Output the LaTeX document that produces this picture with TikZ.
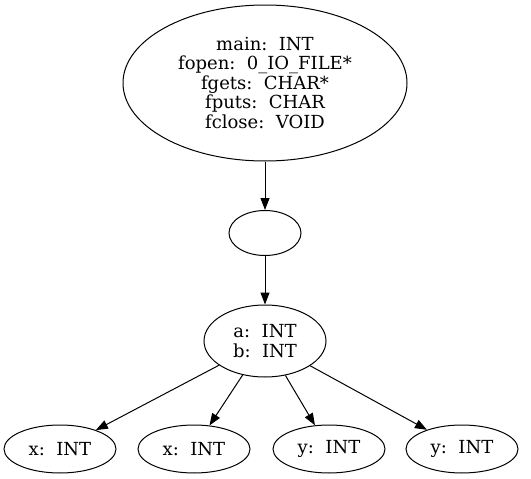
\documentclass[tikz,border=0pt]{standalone}
\usepackage{fontspec}
\setmainfont{DejaVu Serif}
\usetikzlibrary{shapes.geometric,arrows.meta}
\begin{document}
\begin{tikzpicture}[x=1pt,y=-1pt,
  nd/.style={draw,ellipse,inner sep=0pt,line width=1pt,align=center,
    font=\fontsize{18}{19.5}\selectfont},
  edge/.style={line width=1pt,-{Triangle[length=12pt,width=9pt]}}]
\useasboundingbox (0,0) rectangle (531,479);
\node[nd,minimum width=284pt,minimum height=156pt] (top) at (265,83)
  {main:~~INT\\fopen:~~0\_IO\_FILE*\\fgets:~~CHAR*\\fputs:~~CHAR\\fclose:~~VOID};
\node[nd,minimum width=72pt,minimum height=45pt] (mid) at (265,233) {};
\node[nd,minimum width=122pt,minimum height=72pt] (ab) at (265,341) {a:~~INT\\b:~~INT};
\node[nd,minimum width=112pt,minimum height=48pt] (x1) at (60,449) {x:~~INT};
\node[nd,minimum width=112pt,minimum height=48pt] (x2) at (194,449) {x:~~INT};
\node[nd,minimum width=112pt,minimum height=48pt] (y1) at (329,449) {y:~~INT};
\node[nd,minimum width=112pt,minimum height=48pt] (y2) at (462,449) {y:~~INT};
\draw[edge] (top) -- (mid);
\draw[edge] (mid) -- (ab);
\draw[edge] (ab) -- (x1);
\draw[edge] (ab) -- (x2);
\draw[edge] (ab) -- (y1);
\draw[edge] (ab) -- (y2);
\end{tikzpicture}
\end{document}
